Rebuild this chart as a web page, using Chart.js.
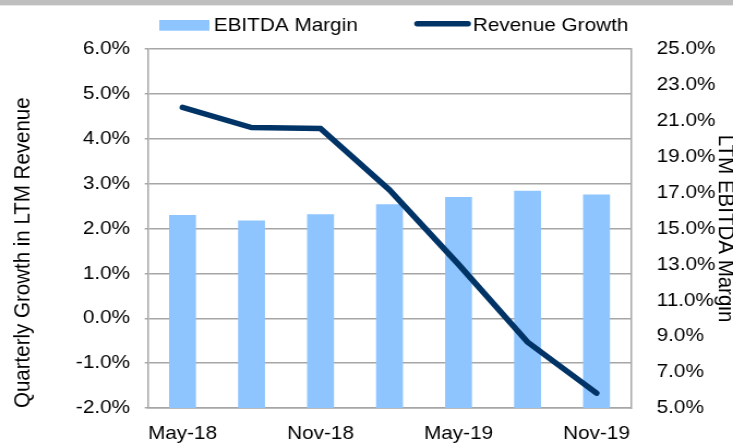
<!DOCTYPE html>
<html>
<head>
<meta charset="utf-8">
<script src="https://cdn.jsdelivr.net/npm/chart.js@4.4.1/dist/chart.umd.min.js"></script>
<style>
    html, body { margin: 0; padding: 0; background: #fff; }
</style>
</head>
<body>
<!-- o original esta esticado na horizontal (~1.09x): canvas mais estreito, esticado pelo css -->
<canvas id="graficoMargem" width="672" height="443" style="width:733px;height:443px"></canvas>
<script>
// dados
const categorias = ['May-18', 'Aug-18', 'Nov-18', 'Feb-19', 'May-19', 'Aug-19', 'Nov-19'];
const labelsVisiveis = ['May-18', 'Nov-18', 'May-19', 'Nov-19'];
const ebitdaMargin = [15.75, 15.45, 15.8, 16.35, 16.75, 17.1, 16.9];
const revenueGrowth = [4.7, 4.25, 4.23, 2.86, 1.2, -0.53, -1.67];

const corBarra = '#8ec5ff';
const corLinha = '#003366';
const corGrade = '#a6a6a6';
const fonte = '"Liberation Sans", Arial, sans-serif';

function pct(v) {
    return v.toFixed(1) + '%';
}

// faixa cinza no topo + legenda desenhada a mao
const extras = {
    id: 'extras',
    beforeDraw(chart) {
        const ctx = chart.ctx;
        ctx.save();
        ctx.fillStyle = '#bfbfbf';
        ctx.fillRect(0, 0, chart.width, 5);
        ctx.fillStyle = '#e6e6e6';
        ctx.fillRect(0, 5, chart.width, 1);
        ctx.restore();
    },
    afterDraw(chart) {
        const ctx = chart.ctx;
        const ds = chart.data.datasets;
        ctx.save();
        ctx.font = '19px ' + fonte;
        ctx.textBaseline = 'alphabetic';
        ctx.fillStyle = ds[1].backgroundColor;
        ctx.fillRect(146, 20, 46, 10.7);
        ctx.fillStyle = '#000';
        ctx.fillText(ds[1].label, 196, 31);

        ctx.strokeStyle = ds[0].borderColor;
        ctx.lineWidth = 5.5;
        ctx.lineCap = 'round';
        ctx.beginPath();
        ctx.moveTo(382.5, 23.8);
        ctx.lineTo(429, 23.8);
        ctx.stroke();
        ctx.fillText(ds[0].label, 433.5, 31);
        ctx.restore();
    }
};

const ctx = document.getElementById('graficoMargem').getContext('2d');

new Chart(ctx, {
    type: 'bar',
    data: {
        labels: categorias,
        datasets: [
            {
                type: 'line',
                label: 'Revenue Growth',
                data: revenueGrowth,
                yAxisID: 'y',
                borderColor: corLinha,
                borderWidth: 5.5,
                borderCapStyle: 'round',
                pointRadius: 0,
                tension: 0,
                fill: false,
                order: 0
            },
            {
                type: 'bar',
                label: 'EBITDA Margin',
                data: ebitdaMargin,
                yAxisID: 'y1',
                backgroundColor: corBarra,
                borderWidth: 0,
                categoryPercentage: 1,
                barPercentage: 0.39,
                order: 1
            }
        ]
    },
    options: {
        responsive: false,
        animation: false,
        layout: { padding: { top: 49, left: 0, right: 0, bottom: 0 } },
        plugins: {
            legend: { display: false },
            tooltip: { enabled: false }
        },
        scales: {
            x: {
                offset: true,
                grid: { display: false },
                border: { display: true, color: corGrade, width: 1.5 },
                ticks: {
                    color: '#000',
                    font: { family: fonte, size: 19 },
                    padding: 6,
                    autoSkip: false,
                    maxRotation: 0,
                    callback: function (v, i) {
                        const nome = categorias[i];
                        return labelsVisiveis.includes(nome) ? nome : '';
                    }
                },
                afterFit: function (scale) { scale.height = 35; }
            },
            y: {
                position: 'left',
                min: -2,
                max: 6,
                ticks: {
                    stepSize: 1,
                    color: '#000',
                    font: { family: fonte, size: 19 },
                    padding: 13.5,
                    callback: pct
                },
                grid: { color: corGrade, lineWidth: 1.5, tickLength: 3 },
                border: { display: true, color: corGrade, width: 1.5 },
                title: {
                    display: true,
                    text: 'Quarterly Growth in LTM Revenue',
                    color: '#000',
                    align: 'start',
                    font: { family: fonte, size: 20.5 },
                    padding: { top: 9.5, bottom: 0 }
                },
                afterFit: function (scale) { scale.width = 135.7; }
            },
            y1: {
                position: 'right',
                min: 5,
                max: 25,
                ticks: {
                    stepSize: 2,
                    color: '#000',
                    font: { family: fonte, size: 19 },
                    padding: 15.5,
                    callback: pct
                },
                grid: { display: false },
                border: { display: true, color: corGrade, width: 1.5 },
                title: {
                    display: true,
                    text: 'LTM EBITDA Margin',
                    color: '#000',
                    font: { family: fonte, size: 20.5 },
                    padding: { top: -5, bottom: 0 }
                },
                afterFit: function (scale) { scale.width = 93.5; }
            }
        }
    },
    plugins: [extras]
});
</script>
</body>
</html>
